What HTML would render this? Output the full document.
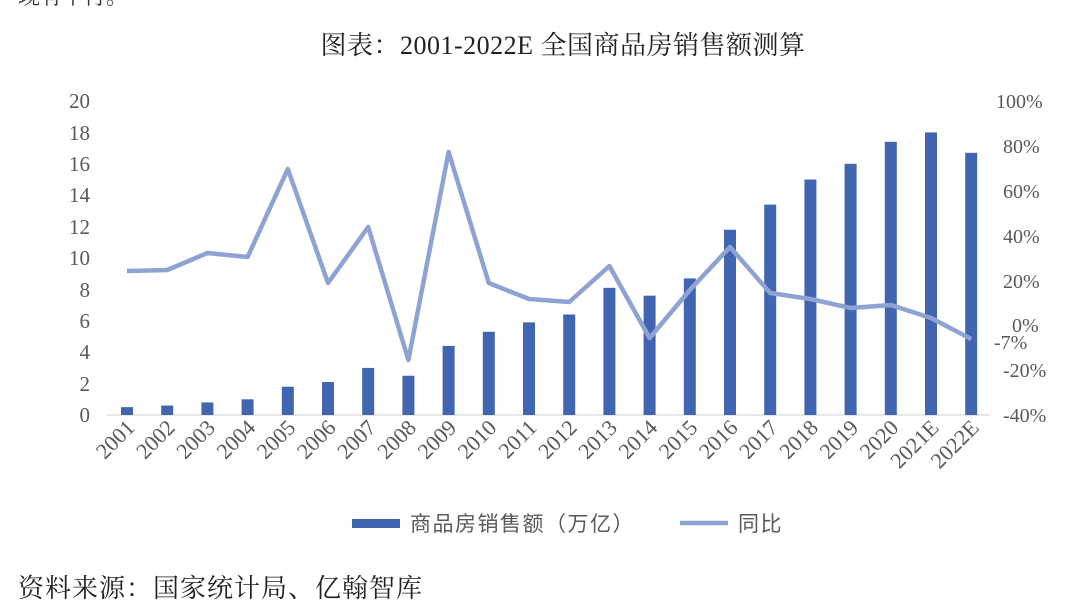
<!DOCTYPE html>
<html><head><meta charset="utf-8"><style>
body{margin:0;background:#fff;width:1080px;height:606px;overflow:hidden}
svg{display:block}
</style></head><body>
<svg width="1080" height="606" xmlns="http://www.w3.org/2000/svg" font-family="Liberation Serif, Noto Serif CJK SC, serif">
<text x="18" y="4" font-size="22" fill="#333">现有中付。</text>
<text x="563" y="54" font-size="26" fill="#222" text-anchor="middle" letter-spacing="0.5">图表：2001-2022E 全国商品房销售额测算</text>
<g font-size="21" fill="#595959" text-anchor="end">
<text x="90" y="422">0</text><text x="90" y="391">2</text><text x="90" y="359">4</text><text x="90" y="328">6</text><text x="90" y="297">8</text><text x="90" y="265">10</text><text x="90" y="234">12</text><text x="90" y="202">14</text><text x="90" y="171">16</text><text x="90" y="140">18</text><text x="90" y="108">20</text>
</g>
<g font-size="20" fill="#595959">
<text x="1003" y="422">-40%</text><text x="1003" y="377">-20%</text><text x="1012" y="332">0%</text><text x="1003" y="288">20%</text><text x="1003" y="243">40%</text><text x="1003" y="198">60%</text><text x="1003" y="153">80%</text><text x="996" y="108">100%</text>
<text x="994" y="349">-7%</text>
</g>
<line x1="107" y1="415" x2="990" y2="415" stroke="#d0d0d0" stroke-width="1"/>
<g id="bars" fill="#4165b0"></g>
<polyline id="ln" fill="none" stroke="#8fa2d4" stroke-width="4.5" stroke-linejoin="round"/>
<g id="xl" font-size="22" fill="#595959"></g>
<rect x="352" y="519" width="48" height="9" fill="#4165b0"/>
<text x="410" y="531" font-size="21" fill="#595959" letter-spacing="1.5" font-family="Liberation Sans, Noto Sans CJK SC, sans-serif">商品房销售额（万亿）</text>
<line x1="680" y1="523" x2="728" y2="523" stroke="#8fa2d4" stroke-width="4.5"/>
<text x="738" y="531" font-size="21" fill="#595959" letter-spacing="1.5" font-family="Liberation Sans, Noto Sans CJK SC, sans-serif">同比</text>
<text x="18" y="597" font-size="26" fill="#222" letter-spacing="1">资料来源：国家统计局、亿翰智库</text>
</svg>
<script>
const v=[0.5,0.6,0.8,1.0,1.8,2.1,3.0,2.5,4.4,5.3,5.9,6.4,8.1,7.6,8.7,11.8,13.4,15.0,16.0,17.4,18.0,16.7];
const ly=[271,270,253,257,169,283,227,360,152,283,299,302,266,338,290,247,293,299,308,305,318,339];
const lab=["2001","2002","2003","2004","2005","2006","2007","2008","2009","2010","2011","2012","2013","2014","2015","2016","2017","2018","2019","2020","2021E","2022E"];
const ns="http://www.w3.org/2000/svg";let b=document.getElementById('bars'),x=document.getElementById('xl'),pts=[];
v.forEach((d,i)=>{const cx=127+i*40.2;const h=d*15.7;
let r=document.createElementNS(ns,'rect');r.setAttribute('x',cx-6);r.setAttribute('y',415-h);r.setAttribute('width',12);r.setAttribute('height',h);b.appendChild(r);
pts.push(cx+','+ly[i]);
let t=document.createElementNS(ns,'text');t.setAttribute('text-anchor','end');t.setAttribute('transform',`translate(${cx+9},${429}) rotate(-45)`);t.textContent=lab[i];x.appendChild(t);});
document.getElementById('ln').setAttribute('points',pts.join(' '));
</script>
</body></html>
